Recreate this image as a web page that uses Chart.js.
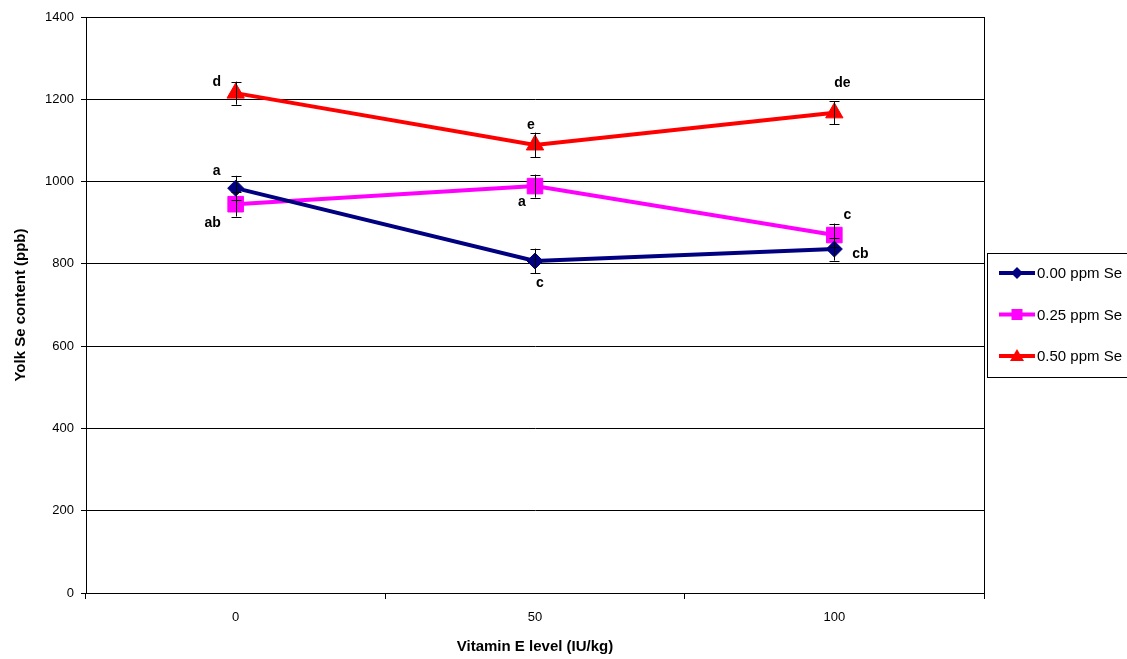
<!DOCTYPE html>
<html>
<head>
<meta charset="utf-8">
<style>
  html, body { margin: 0; padding: 0; background: #fff; }
  #wrap { position: relative; width: 1127px; height: 659px; }
</style>
<script src="https://cdn.jsdelivr.net/npm/chart.js@4"></script>
</head>
<body>
<div id="wrap"><canvas id="chart" width="1127" height="659"></canvas></div>
<script>
// Yolk Se content vs vitamin E level, three Se levels

const categories = ["0", "50", "100"];
const seriesNames = ["0.00 ppm Se", "0.25 ppm Se", "0.50 ppm Se"];

const se000 = [984, 807, 836];
const se025 = [945, 989, 870];
const se050 = [1215, 1089, 1167];

const err000 = [30, 30, 28];
const err025 = [30, 28, 28];
const err050 = [28, 30, 28];

const letters000 = ["a", "c", "cb"];
const letters025 = ["ab", "a", "c"];
const letters050 = ["d", "e", "de"];

const yTicks = [0, 200, 400, 600, 800, 1000, 1200, 1400];

const FONT = "'Liberation Sans', Arial, Helvetica, sans-serif";

// per-series label offsets (px from point), [dx, dy] for each category
const letterOffsets = [
  [[-19, -17], [5, 22], [26, 5]],
  [[-23, 19], [-13, 16], [13, -20]],
  [[-19, -11], [-4, -20], [8, -30]],
];

const errorBars = {
  id: "errorBars",
  afterDatasetsDraw(chart) {
    const { ctx, scales: { x, y } } = chart;
    ctx.save();
    ctx.strokeStyle = "#000";
    ctx.lineWidth = 1;
    chart.data.datasets.forEach(ds => {
      ds.data.forEach((v, i) => {
        const px = Math.round(x.getPixelForValue(i)) + 0.5;
        const top = y.getPixelForValue(v + ds.err[i]);
        const bot = y.getPixelForValue(v - ds.err[i]);
        ctx.beginPath();
        ctx.moveTo(px, top); ctx.lineTo(px, bot);
        ctx.moveTo(px - 5, Math.round(top) + 0.5); ctx.lineTo(px + 5, Math.round(top) + 0.5);
        ctx.moveTo(px - 5, Math.round(bot) + 0.5); ctx.lineTo(px + 5, Math.round(bot) + 0.5);
        ctx.stroke();
      });
    });
    ctx.restore();
  },
};

const lettersPlugin = {
  id: "letters",
  afterDraw(chart) {
    const { ctx, scales: { x, y } } = chart;
    ctx.save();
    ctx.fillStyle = "#000";
    ctx.font = `bold 14px ${FONT}`;
    ctx.textAlign = "center";
    ctx.textBaseline = "middle";
    chart.data.datasets.forEach((ds, si) => {
      ds.data.forEach((v, i) => {
        const [dx, dy] = letterOffsets[si][i];
        ctx.fillText(ds.letters[i], x.getPixelForValue(i) + dx, y.getPixelForValue(v) + dy);
      });
    });
    ctx.restore();
  },
};

const frame = {
  id: "frame",
  beforeDatasetsDraw(chart) {
    const { ctx, chartArea: a } = chart;
    ctx.save();
    ctx.strokeStyle = "#000";
    ctx.lineWidth = 1;
    ctx.strokeRect(Math.round(a.left) + 0.5, Math.round(a.top) + 0.5,
      Math.round(a.right - a.left), Math.round(a.bottom - a.top));
    ctx.restore();
  },
};

function legendMarker(ctx, style, cx, cy, color) {
  ctx.fillStyle = color;
  ctx.beginPath();
  if (style === "rectRot") {
    ctx.moveTo(cx, cy - 6); ctx.lineTo(cx + 6, cy); ctx.lineTo(cx, cy + 6); ctx.lineTo(cx - 6, cy);
  } else if (style === "rect") {
    ctx.rect(cx - 5.5, cy - 5.5, 11, 11);
  } else {
    ctx.moveTo(cx, cy - 7); ctx.lineTo(cx + 7, cy + 5); ctx.lineTo(cx - 7, cy + 5);
  }
  ctx.closePath();
  ctx.fill();
}

const legendBox = {
  id: "legendBox",
  afterDraw(chart) {
    const { ctx } = chart;
    ctx.save();
    ctx.strokeStyle = "#000";
    ctx.lineWidth = 1;
    ctx.strokeRect(987.5, 253.5, 150, 124);
    chart.data.datasets.forEach((ds, i) => {
      const cy = 273 + i * 41.5;
      ctx.strokeStyle = ds.borderColor;
      ctx.lineWidth = 4;
      ctx.beginPath();
      ctx.moveTo(999, cy); ctx.lineTo(1035, cy);
      ctx.stroke();
      legendMarker(ctx, ds.pointStyle, 1017, cy, ds.borderColor);
      ctx.fillStyle = "#000";
      ctx.font = `15px ${FONT}`;
      ctx.textAlign = "left";
      ctx.textBaseline = "middle";
      ctx.fillText(seriesNames[i], 1037, cy + 1);
    });
    ctx.restore();
  },
};

new Chart(document.getElementById("chart"), {
  type: "line",
  data: {
    labels: categories,
    datasets: [
      {
        label: seriesNames[0], data: se000, err: err000, letters: letters000,
        borderColor: "#000080", backgroundColor: "#000080",
        borderWidth: 4, pointStyle: "rectRot", pointRadius: 8, pointBorderWidth: 1,
      },
      {
        label: seriesNames[1], data: se025, err: err025, letters: letters025,
        borderColor: "#FF00FF", backgroundColor: "#FF00FF",
        borderWidth: 4, pointStyle: "rect", pointRadius: 11, pointBorderWidth: 1,
      },
      {
        label: seriesNames[2], data: se050, err: err050, letters: letters050,
        borderColor: "#FF0000", backgroundColor: "#FF0000",
        borderWidth: 4, pointStyle: "triangle", pointRadius: 10, pointBorderWidth: 1,
      },
    ],
  },
  options: {
    responsive: false,
    animation: false,
    layout: { padding: { top: 17, right: 143, bottom: 0, left: 0 } },
    plugins: {
      legend: { display: false },
      tooltip: { enabled: false },
    },
    scales: {
      x: {
        type: "category",
        offset: true,
        grid: { offset: true, drawOnChartArea: false, color: "#000", tickLength: 6, tickColor: "#000" },
        border: { color: "#000", width: 1 },
        ticks: { color: "#000", font: { family: FONT, size: 13 }, padding: 11 },
        title: {
          display: true, text: "Vitamin E level (IU/kg)", color: "#000",
          font: { family: FONT, size: 15, weight: "bold" }, padding: { top: 4, bottom: 3 },
        },
        afterFit(s) { s.height = 66; },
      },
      y: {
        min: 0, max: 1400,
        afterBuildTicks(s) { s.ticks = yTicks.map(v => ({ value: v })); },
        grid: { color: "#000", lineWidth: 1, tickLength: 5, tickColor: "#000" },
        border: { color: "#000", width: 1 },
        ticks: {
          color: "#000", font: { family: FONT, size: 13 }, padding: 7,
          callback: v => String(v),
        },
        title: {
          display: true, text: "Yolk Se content (ppb)", color: "#000",
          font: { family: FONT, size: 15, weight: "bold" }, padding: { top: 12, bottom: 4 },
        },
        afterFit(s) { s.width = 86; },
      },
    },
  },
  plugins: [frame, errorBars, lettersPlugin, legendBox],
});
</script>
</body>
</html>
